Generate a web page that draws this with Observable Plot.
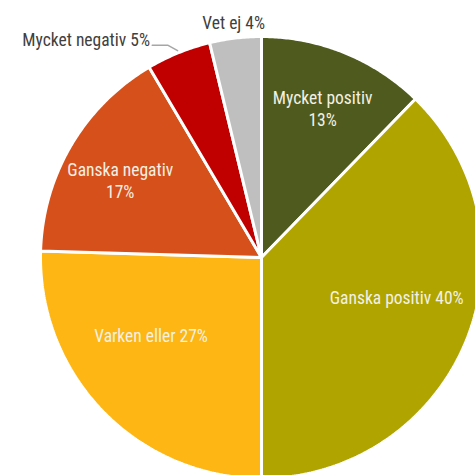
<!DOCTYPE html>
<html>
<head>
<meta charset="utf-8">
<script src="https://cdn.jsdelivr.net/npm/d3@7"></script>
<script src="https://cdn.jsdelivr.net/npm/@observablehq/plot@0.6"></script>
<style>
  html, body { margin: 0; padding: 0; background: #fff; overflow: hidden; }
  #chart svg { overflow: hidden; }
</style>
</head>
<body>
<div id="chart"></div>
<script>
// ---- data ----
const categories = ["Mycket positiv", "Ganska positiv", "Varken eller", "Ganska negativ", "Mycket negativ", "Vet ej"];
const values = [13, 40, 27, 17, 5, 4];
const labels = ["Mycket positiv\n13%", "Ganska positiv 40%", "Varken eller 27%", "Ganska negativ\n17%", "Mycket negativ 5%", "Vet ej 4%"];
const colors = ["#4f5b1e", "#b0a400", "#fdb614", "#d6501b", "#c00000", "#bfbfbf"];

// ---- layout ----
const cx = 261, cy = 257, R = 221;
const fontFamily = "'Liberation Sans Narrow', 'Arial Narrow', 'Roboto Condensed', 'Liberation Sans', sans-serif";
const fontSize = 17.5;

const total = d3.sum(values);
let acc = 0;
const slices = categories.map((c, i) => {
  const a0 = acc / total * 2 * Math.PI;
  acc += values[i];
  const a1 = acc / total * 2 * Math.PI;
  return {cat: c, a0, a1, mid: (a0 + a1) / 2, label: labels[i]};
});
const polar = (a, r) => ({x: r * Math.sin(a), y: r * Math.cos(a)});

// polygon points for each slice (center -> arc -> center)
const pts = [];
for (const s of slices) {
  pts.push({cat: s.cat, x: 0, y: 0});
  const n = Math.max(2, Math.ceil((s.a1 - s.a0) / (Math.PI / 360)));
  for (let k = 0; k <= n; k++) {
    const a = s.a0 + (s.a1 - s.a0) * k / n;
    pts.push({cat: s.cat, ...polar(a, 1)});
  }
  pts.push({cat: s.cat, x: 0, y: 0});
}

// label placement: radius fraction, angle shift, pixel offsets
const inside = {
  "Mycket positiv": {r: 0.70, da: 0.00, ox: 3, oy: -6},
  "Ganska positiv": {r: 0.63, da: -0.09, ox: 2, oy: -1},
  "Varken eller": {r: 0.65, da: 0.22, ox: 12, oy: 2},
  "Ganska negativ": {r: 0.70, da: -0.04, ox: -5, oy: -4}
};
const insideLabels = slices.filter(s => inside[s.cat]).map(s => {
  const L = inside[s.cat];
  const p = polar(s.mid + L.da, L.r);
  return {label: s.label, x: p.x + L.ox / R, y: p.y - L.oy / R};
});

const vet = slices[5];
const vetPos = polar(vet.mid, 1.065);
const vetLabel = [{label: vet.label, x: vetPos.x, y: vetPos.y}];

const mn = slices[4];
const p0 = polar(mn.mid, 1.01);
const leader = [
  {x: p0.x, y: p0.y},
  {x: p0.x - 0.045, y: p0.y + 0.025},
  {x: p0.x - 0.115, y: p0.y + 0.025}
];
const mnLabel = [{label: mn.label, x: p0.x - 0.125, y: p0.y + 0.035 + 3 / R}];

const plot = Plot.plot({
  width: 475,
  height: 475,
  margin: 0,
  x: {domain: [-1, 1], range: [cx - R, cx + R], axis: null},
  y: {domain: [-1, 1], range: [cy + R, cy - R], axis: null},
  color: {domain: categories, range: colors},
  style: {fontFamily, background: "#fff"},
  marks: [
    Plot.line(pts, {x: "x", y: "y", z: "cat", fill: "cat", stroke: "white", strokeWidth: 3, strokeLinejoin: "miter"}),
    Plot.text(insideLabels, {x: "x", y: "y", text: "label", fill: "#f3f1e4", fontSize, lineHeight: 1.25, textAnchor: "middle"}),
    Plot.line(leader, {x: "x", y: "y", stroke: "#a6a6a6", strokeWidth: 1.5}),
    Plot.text(mnLabel, {x: "x", y: "y", text: "label", fill: "#404040", fontSize, textAnchor: "end"}),
    Plot.text(vetLabel, {x: "x", y: "y", text: "label", fill: "#404040", fontSize, textAnchor: "middle"})
  ]
});
document.getElementById("chart").appendChild(plot);
</script>
</body>
</html>
